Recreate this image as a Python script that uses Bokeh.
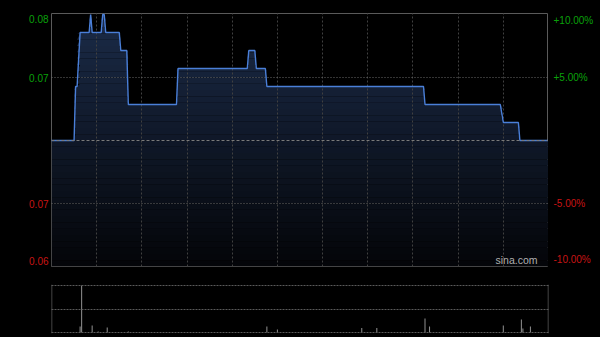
import numpy as np
from bokeh.plotting import figure
from bokeh.layouts import column, row
from bokeh.models import Range1d, FixedTicker, Span, Grid
from bokeh.core.properties import value
from bokeh.embed import file_html
from bokeh.resources import INLINE

# ---- data ----
prev_close = 0.070
minutes = [0, 15, 16, 17, 19, 25, 26, 27, 33, 34, 35, 36, 45, 46, 50, 51, 83, 84,
           130, 131, 135, 136, 142, 143, 247, 248, 298, 300, 310, 311, 330]
prices = [0.070, 0.070, 0.073, 0.073, 0.076, 0.076, 0.077, 0.076, 0.076, 0.077, 0.077,
          0.076, 0.076, 0.075, 0.075, 0.072, 0.072, 0.074, 0.074, 0.075, 0.075, 0.074,
          0.074, 0.073, 0.073, 0.072, 0.072, 0.071, 0.071, 0.070, 0.070]
vol_minutes = [19, 20, 27, 31, 37, 51, 143, 150, 206, 216, 248, 251, 300, 312, 313, 318]
volumes = [120000, 940000, 140000, 20000, 100000, 20000, 120000, 60000, 90000, 90000,
           280000, 120000, 140000, 260000, 80000, 120000]
grid_minutes = [30, 60, 90, 120, 150, 180, 210, 240, 270, 300]
left_labels = ["0.08", "0.07", "0.07", "0.06"]
right_labels = ["+10.00%", "+5.00%", "-5.00%", "-10.00%"]
label_pcts = [10, 5, -5, -10]

pct = (np.array(prices) / prev_close - 1.0) * 100.0
x = np.array(minutes, dtype=float)

FONT = "Liberation Sans"
GREEN = "#0aa00a"
RED = "#c81414"
Y0, Y1 = -10.0, 10.08
H_TOP = 276

common = dict(output_backend="svg", toolbar_location=None,
              x_axis_location=None, y_axis_location=None,
              background_fill_color="#000000", border_fill_color="#000000")

p = figure(width=497, height=H_TOP, x_range=Range1d(0, 330), y_range=Range1d(Y0, Y1),
           min_border_left=0, min_border_right=0, min_border_top=13, min_border_bottom=10,
           outline_line_color="#5a5a5a", **common)
p.grid.visible = False

# gradient-like fill under the price line (bands)
top_c = np.array([0x1b, 0x2b, 0x48])
bot_c = np.array([0x04, 0x05, 0x08])
edges = np.arange(Y0, Y1 + 0.5, 0.5)
for lo, hi in zip(edges[:-1], edges[1:]):
    t = (min(hi, Y1) - Y0) / (Y1 - Y0)
    c = (bot_c + (top_c - bot_c) * t).astype(int)
    col = "#%02x%02x%02x" % tuple(c)
    y2 = np.clip(pct, lo, hi)
    p.varea(x=x, y1=np.full_like(x, lo), y2=y2, fill_color=col, fill_alpha=1.0)

xg = Grid(dimension=0, ticker=FixedTicker(ticks=grid_minutes), grid_line_color="#404040",
          grid_line_dash="2 2", grid_line_width=1, level="guide")
yg = Grid(dimension=1, ticker=FixedTicker(ticks=[-5, 5]), grid_line_color="#686868",
          grid_line_dash="1 2", grid_line_width=1, level="guide")
p.add_layout(xg, "center")
p.add_layout(yg, "center")
p.add_layout(Span(location=0, dimension="width", line_color="#7a7a7a",
                  line_dash="3 2", line_width=1))

r = p.line(x=x, y=pct, line_color="#4a7fd8", line_width=1.4)
r.level = "annotation"

p.text(x=[330], y=[Y0], text=["sina.com"], text_align="right", text_baseline="bottom",
       x_offset=-11, y_offset=-1, text_color="#b0b0b0", text_font_size="10.5px",
       text_font=value(FONT))

# side label panels
def side_panel(width, labels, align, xpos, xoff):
    f = figure(width=width, height=H_TOP, x_range=Range1d(0, 1), y_range=p.y_range,
               min_border_left=0, min_border_right=0, min_border_top=13, min_border_bottom=10,
               outline_line_color=None, **common)
    f.grid.visible = False
    for txt, v in zip(labels, label_pcts):
        colr = GREEN if v > 0 else RED
        if v == 10:
            yv, base, yoff = Y1, "top", 1
        elif v == -10:
            yv, base, yoff = Y0, "bottom", -2
        else:
            yv, base, yoff = v, "middle", 0
        f.text(x=[xpos], y=[yv], text=[txt], text_align=align, text_baseline=base,
               x_offset=xoff, y_offset=yoff, text_color=colr, text_font_size="10px",
               text_font=value(FONT))
    return f

pl = side_panel(51, left_labels, "right", 1, -3)
pr = side_panel(52, right_labels, "left", 0, 5)

# ---- volume panel ----
vmax = max(volumes)
pad = vmax / 47.0
p2 = figure(width=600, height=61, x_range=p.x_range, y_range=Range1d(-pad, vmax + pad),
            min_border_left=51, min_border_right=52, min_border_top=8, min_border_bottom=4,
            outline_line_color=None, **common)
p2.grid.visible = False
vg = Grid(dimension=1, ticker=FixedTicker(ticks=[0, vmax / 2, vmax]), grid_line_color="#5a5a5a",
          grid_line_dash="2 1", grid_line_width=1, level="guide")
p2.add_layout(vg, "center")
p2.vbar(x=vol_minutes, top=volumes, bottom=0, width=0.7, fill_color="#8a8a8a", line_color=None)
p2.add_layout(Span(location=0, dimension="height", line_color="#5a5a5a", line_width=1.5))
p2.add_layout(Span(location=330, dimension="height", line_color="#5a5a5a", line_width=1.5))

layout = column(row(pl, p, pr, spacing=0), p2, spacing=0,
                styles={"background-color": "#000000"})
open("out.html", "w").write(file_html(layout, INLINE))
